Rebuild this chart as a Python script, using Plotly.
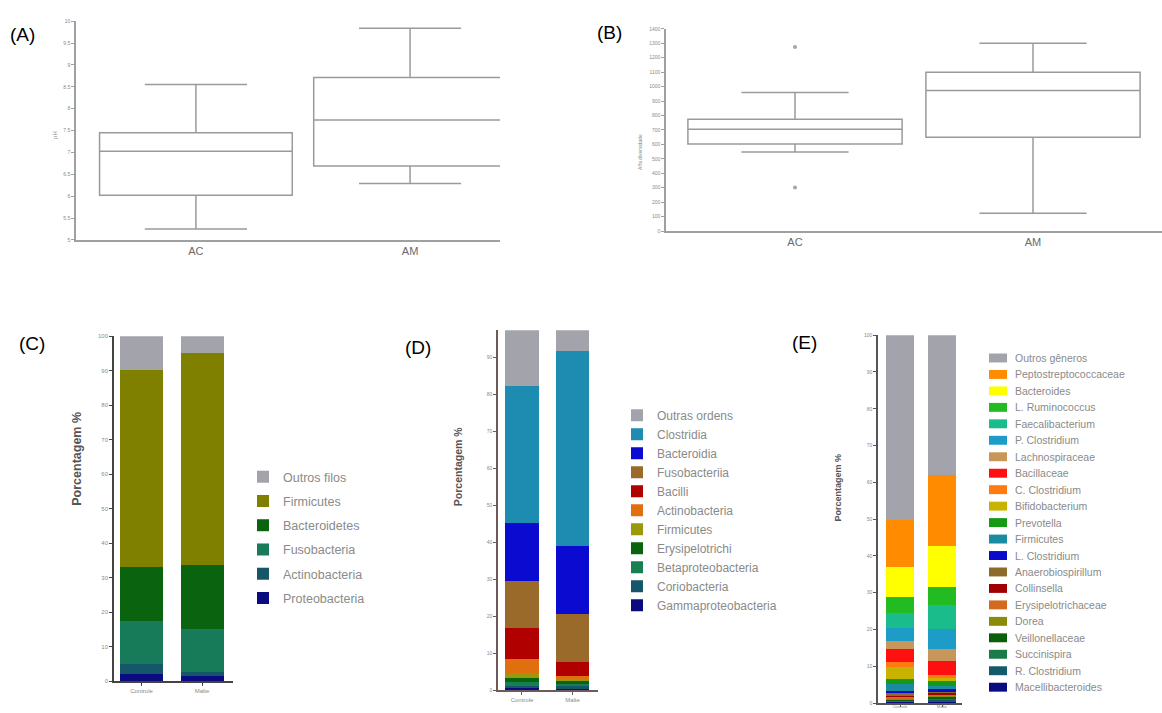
import plotly.graph_objects as go

W, H = 1162, 713
def px(x):
    return x / W
def py(y):
    return 1 - y / H

# ---------------- Panel A / B data (box statistics) ----------------
box_groups = ["AC", "AM"]
a_lower = [5.25, 6.29]
a_q1 = [6.02, 6.69]
a_median = [7.03, 7.74]
a_q3 = [7.45, 8.71]
a_upper = [8.55, 9.84]

b_lower = [548, 123]
b_q1 = [603, 650]
b_median = [705, 973]
b_q3 = [774, 1100]
b_upper = [959, 1300]
b_outlier_group = ["AC", "AC"]
b_outliers = [1274, 301]

# ---------------- Panel C data (phyla) ----------------
bar_groups = ["Controle", "Malte"]
c_names = ["Proteobacteria", "Actinobacteria", "Fusobacteria", "Bacteroidetes", "Firmicutes", "Outros filos"]
c_controle = [2.0, 3.0, 12.4, 15.8, 57.0, 9.8]
c_malte = [1.6, 1.0, 12.4, 18.7, 61.3, 5.0]
c_colors = ["#0B0B80", "#15566A", "#177A58", "#0A640F", "#808000", "#A3A3AB"]

# ---------------- Panel D data (orders/classes) ----------------
d_names = ["Gammaproteobacteria", "Coriobacteria", "Betaproteobacteria", "Erysipelotrichi", "Firmicutes",
           "Actinobacteria", "Bacilli", "Fusobacteriia", "Bacteroidia", "Clostridia", "Outras ordens"]
d_controle = [0.6, 0.6, 1.0, 1.0, 1.4, 3.7, 8.5, 12.6, 15.9, 37.0, 17.7]
d_malte = [0.5, 0.5, 0.7, 0.8, 0.5, 0.7, 3.9, 13.1, 18.4, 52.5, 8.4]
d_colors = ["#0B0B80", "#15566A", "#178050", "#0A640F", "#99990A", "#E0700F",
            "#B00000", "#9A6A2A", "#0A0AD0", "#1E8CB0", "#A3A3AB"]

# ---------------- Panel E data (genera) ----------------
e_names = ["Macellibacteroides", "R. Clostridium", "Succinispira", "Veillonellaceae", "Dorea",
           "Erysipelotrichaceae", "Collinsella", "Anaerobiospirillum", "L. Clostridium", "Firmicutes",
           "Prevotella", "Bifidobacterium", "C. Clostridium", "Bacillaceae", "Lachnospiraceae",
           "P. Clostridium", "Faecalibacterium", "L. Ruminococcus", "Bacteroides",
           "Peptostreptococcaceae", "Outros gêneros"]
e_controle = [0.3, 0.2, 0.2, 0.3, 0.2, 0.4, 0.3, 0.9, 0.4, 2.0, 1.4, 3.1, 1.4, 3.5, 2.3,
              3.6, 4.0, 4.2, 8.4, 12.6, 50.3]
e_malte = [0.4, 0.4, 0.3, 0.5, 0.3, 0.3, 0.5, 0.3, 0.8, 0.8, 1.6, 0.5, 0.8, 3.8, 3.5,
           5.4, 6.5, 4.8, 11.1, 19.4, 38.0]
e_colors = ["#0B0B80", "#155A6A", "#1B7A4A", "#0A5F0A", "#8B8B0A", "#D2691E", "#A00000",
            "#8B6A2B", "#0A0ACC", "#1A8BA0", "#159A15", "#C8B400", "#FF7A10", "#FF1010",
            "#C8965A", "#1E9CC8", "#1ABC8C", "#22BB22", "#FFFF00", "#FF8C00", "#A3A3AB"]

BOXLINE = "#9a9a9a"
fig = go.Figure()

# Panel A
fig.add_trace(go.Box(x=box_groups, q1=a_q1, median=a_median, q3=a_q3,
                     lowerfence=a_lower, upperfence=a_upper, width=0.9, whiskerwidth=0.53,
                     line=dict(color=BOXLINE, width=1.5), fillcolor="rgba(255,255,255,0)",
                     showlegend=False, xaxis="x", yaxis="y", hoverinfo="skip"))
# Panel B
fig.add_trace(go.Box(x=box_groups, q1=b_q1, median=b_median, q3=b_q3,
                     lowerfence=b_lower, upperfence=b_upper, width=0.9, whiskerwidth=0.5,
                     line=dict(color=BOXLINE, width=1.5), fillcolor="rgba(255,255,255,0)",
                     showlegend=False, xaxis="x2", yaxis="y2", hoverinfo="skip"))
fig.add_trace(go.Scatter(x=b_outlier_group, y=b_outliers, mode="markers",
                         marker=dict(color="#a5a5a5", size=4), showlegend=False,
                         xaxis="x2", yaxis="y2"))

# Panel C
n_c = len(c_names)
for i, (name, cv, mv, col) in enumerate(zip(c_names, c_controle, c_malte, c_colors)):
    fig.add_trace(go.Bar(x=bar_groups, y=[cv, mv], name=name, marker=dict(color=col, line=dict(width=0)),
                         width=0.71, xaxis="x3", yaxis="y3", legend="legend", legendgroup=name,
                         legendrank=100 + n_c - i))
# Panel D
for name, cv, mv, col in zip(d_names, d_controle, d_malte, d_colors):
    fig.add_trace(go.Bar(x=bar_groups, y=[cv, mv], name=name, marker=dict(color=col, line=dict(width=0)),
                         width=0.67, xaxis="x4", yaxis="y4", legend="legend2"))
# Panel E
for name, cv, mv, col in zip(e_names, e_controle, e_malte, e_colors):
    fig.add_trace(go.Bar(x=bar_groups, y=[cv, mv], name=name, marker=dict(color=col, line=dict(width=0)),
                         width=0.667, xaxis="x5", yaxis="y5", showlegend=False))

tickgray = "#8a8a8a"
def xax(domain, rng, anchor, linecolor, ticks="", fs=6, fc=tickgray, ticklen=3, standoff=0):
    return dict(domain=domain, range=rng, anchor=anchor, showline=True, linecolor=linecolor,
                linewidth=1.5, showgrid=False, zeroline=False, ticks=ticks, ticklen=ticklen,
                tickcolor=linecolor, tickfont=dict(size=fs, color=fc, family="Liberation Sans"),
                ticklabelstandoff=standoff, type="category", fixedrange=True)

def yax(domain, rng, anchor, linecolor, dtick, fs=5):
    return dict(domain=domain, range=rng, anchor=anchor, showline=True, linecolor=linecolor,
                linewidth=1.5, showgrid=False, zeroline=False, ticks="outside", ticklen=3,
                tickcolor=linecolor, dtick=dtick, tick0=rng[0],
                tickfont=dict(size=fs, color=tickgray, family="Liberation Sans"), fixedrange=True)

layout = dict(
    width=W, height=H, margin=dict(l=0, r=0, t=0, b=0),
    paper_bgcolor="white", plot_bgcolor="white", barmode="stack", bargap=0.3,
    font=dict(family="Liberation Sans"),
    xaxis=xax([px(76), px(500)], [-0.56, 1.42], "y", "#a0a0a0", fs=11, fc="#6a6a6a"),
    yaxis=yax([py(239), py(18.3)], [5.0, 10.0], "x", "#a0a0a0", 0.5),
    xaxis2=xax([px(666), px(1162)], [-0.542, 1.542], "y2", "#a0a0a0", fs=11, fc="#6a6a6a"),
    yaxis2=yax([py(230), py(26)], [0, 1400], "x2", "#a0a0a0", 100),
    xaxis3=xax([px(114), px(233)], [-0.455, 1.512], "y3", "#444444", ticks="outside", fs=6),
    yaxis3=yax([py(684), py(336)], [0, 100], "x3", "#444444", 10, fs=6),
    xaxis4=xax([px(498), px(598)], [-0.475, 1.505], "y4", "#6e5a5a", ticks="outside", fs=6),
    yaxis4=yax([py(693), py(330)], [0, 97.3], "x4", "#6e5a5a", 10, fs=5),
    xaxis5=xax([px(878), px(962)], [-0.524, 1.476], "y5", "#555555", ticks="outside", fs=4,
               ticklen=2, standoff=-4),
    yaxis5=yax([py(706), py(335)], [0, 100], "x5", "#555555", 10, fs=5),
    legend=dict(x=px(243), y=py(463), xanchor="left", yanchor="top", bgcolor="rgba(0,0,0,0)",
                font=dict(size=12.5, color="#8a8a8a", family="Liberation Sans"),
                traceorder="grouped", tracegroupgap=5),
    legend2=dict(x=px(617), y=py(401), xanchor="left", yanchor="top", bgcolor="rgba(0,0,0,0)",
                 font=dict(size=12, color="#8a8a8a", family="Liberation Sans"),
                 traceorder="reversed"),
)
fig.update_layout(**layout)

ann = []
for lab, x, y in [("(A)", 8, 32), ("(B)", 595, 30), ("(C)", 17, 343), ("(D)", 403, 347), ("(E)", 790, 342)]:
    ann.append(dict(text=lab, x=px(x), y=py(y), xref="paper", yref="paper", xanchor="left",
                    yanchor="middle", showarrow=False, font=dict(size=19, color="black", family="Liberation Sans")))
# axis titles
ann.append(dict(text="pH", x=px(50), y=py(127), xref="paper", yref="paper", textangle=-90,
                showarrow=False, font=dict(size=6, color="#8a8a8a")))
ann.append(dict(text="Alfa diversidade", x=px(640), y=py(130), xref="paper", yref="paper", textangle=-90,
                showarrow=False, font=dict(size=5, color="#8a8a8a")))
ann.append(dict(text="<b>Porcentagem %</b>", x=px(68), y=py(509), xref="paper", yref="paper", textangle=-90,
                showarrow=False, font=dict(size=12.5, color="#555555")))
ann.append(dict(text="<b>Porcentagem %</b>", x=px(458), y=py(510), xref="paper", yref="paper", textangle=-90,
                showarrow=False, font=dict(size=10.5, color="#555555")))
ann.append(dict(text="<b>Porcentagem %</b>", x=px(845), y=py(525), xref="paper", yref="paper", textangle=-90,
                showarrow=False, font=dict(size=9, color="#555555")))

# custom legend for panel E (top-to-bottom = reversed stack order)
shapes = []
e_top, e_step = 358, 16.6
for i, (name, col) in enumerate(zip(e_names[::-1], e_colors[::-1])):
    yc = e_top + i * e_step
    shapes.append(dict(type="rect", xref="paper", yref="paper", x0=px(989), x1=px(1007),
                       y0=py(yc + 4.5), y1=py(yc - 4.5), fillcolor=col, line=dict(width=0)))
    ann.append(dict(text=name, x=px(1013), y=py(yc), xref="paper", yref="paper", xanchor="left",
                    yanchor="middle", showarrow=False, font=dict(size=10.5, color="#8a8a8a")))

fig.update_layout(annotations=ann, shapes=shapes)
fig.write_html("out.html", config={"displayModeBar": False},
               post_script="document.body.style.margin='0px';")
